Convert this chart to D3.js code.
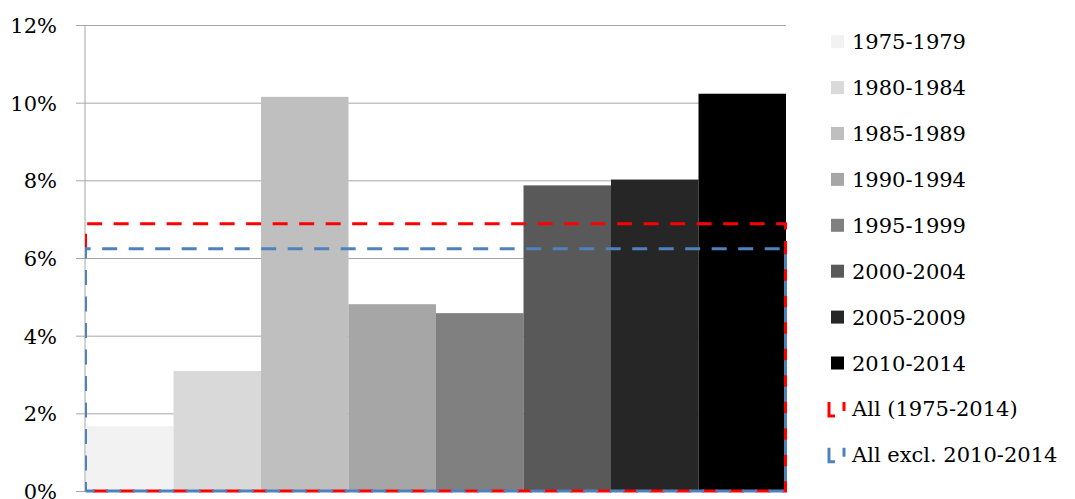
<!DOCTYPE html>
<html>
<head>
<meta charset="utf-8">
<script src="https://cdn.jsdelivr.net/npm/d3@7"></script>
<style>
  html, body { margin: 0; padding: 0; background: #fff; }
  svg { display: block; }
  text { font-family: "DejaVu Serif", "Liberation Serif", serif; fill: #000; }
</style>
</head>
<body>
<svg id="chart" width="1075" height="499"></svg>
<script>
// ---- Data ----
const categories = ["1975-1979", "1980-1984", "1985-1989", "1990-1994", "1995-1999", "2000-2004", "2005-2009", "2010-2014"];
const values = [0.0167, 0.0309, 0.1015, 0.0481, 0.0458, 0.0787, 0.0802, 0.1023];
const barColors = ["#F2F2F2", "#D9D9D9", "#BFBFBF", "#A6A6A6", "#808080", "#595959", "#262626", "#000000"];
const lineNames = ["All (1975-2014)", "All excl. 2010-2014"];
const lineValues = [0.0688, 0.0624];
const lineColors = ["#FF0000", "#4F81BD"];
const yTicks = [0, 0.02, 0.04, 0.06, 0.08, 0.10, 0.12];

// ---- Layout ----
const svg = d3.select("#chart");
const mLeft = 85, mRight = 786, mTop = 25, mBottom = 491;

const x = d3.scaleBand().domain(categories).range([mLeft + 1, mRight]).padding(0);
const y = d3.scaleLinear().domain([0, 0.12]).range([mBottom, mTop]);

svg.append("defs").append("clipPath").attr("id", "plotclip")
  .append("rect").attr("x", mLeft).attr("y", 0).attr("width", 1075 - mLeft).attr("height", 499);

// Gridlines + y axis
const yAxis = d3.axisLeft(y).tickValues(yTicks).tickFormat(d3.format(".0%"))
  .tickSize(-(mRight - mLeft)).tickPadding(0);
const gy = svg.append("g").attr("transform", `translate(${mLeft},0)`).call(yAxis);
gy.select(".domain").remove();
gy.selectAll(".tick line").attr("stroke", "#A6A6A6").attr("stroke-width", 1)
  .attr("x1", -9).attr("x2", mRight - mLeft);
gy.selectAll(".tick text").attr("x", -28).attr("font-size", 21)
  .attr("font-family", "DejaVu Serif").attr("fill", "#000").attr("dy", "0.36em");

// Bars
svg.append("g").selectAll("rect").data(categories).join("rect")
  .attr("x", d => x(d))
  .attr("y", (d, i) => y(values[i]))
  .attr("width", x.bandwidth())
  .attr("height", (d, i) => y(0) - y(values[i]))
  .attr("fill", (d, i) => barColors[i]);

// Vertical axis line
svg.append("line").attr("x1", mLeft).attr("x2", mLeft).attr("y1", y(0.12)).attr("y2", y(0))
  .attr("stroke", "#A6A6A6").attr("stroke-width", 1);

// Dashed average boxes (red box's left side only shows above the blue line)
const x0 = mLeft + 0.5, x1 = mRight - 0.5;
const gBox = svg.append("g").attr("clip-path", "url(#plotclip)");
lineValues.forEach((v, i) => {
  const p = d3.path();
  const startV = i === 0 ? lineValues[1] : 0;
  p.moveTo(x0, y(startV));
  p.lineTo(x0, y(v));
  p.lineTo(x1, y(v));
  p.lineTo(x1, y(0));
  p.lineTo(x0, y(0));
  gBox.append("path").attr("d", p.toString())
    .attr("fill", "none")
    .attr("stroke", lineColors[i])
    .attr("stroke-width", 3)
    .attr("stroke-dasharray", "15,11.5")
    .attr("stroke-dashoffset", i === 0 ? 0 : 6);
});

// Legend
const lgX = 831, lgY0 = 41.7, lgStep = 45.9;
const lg = svg.append("g");
categories.forEach((c, i) => {
  const cy = lgY0 + i * lgStep;
  lg.append("rect").attr("x", lgX).attr("y", cy - 6.5).attr("width", 13).attr("height", 13)
    .attr("fill", barColors[i]);
  lg.append("text").attr("x", 852).attr("y", cy).attr("dy", "0.36em")
    .attr("font-size", 21).text(c);
});
lineNames.forEach((n, i) => {
  const cy = lgY0 + (categories.length + i) * lgStep;
  const p = d3.path();
  p.moveTo(829, cy - 7);
  p.lineTo(829, cy + 7);
  p.lineTo(844, cy + 7);
  p.lineTo(844, cy - 7);
  lg.append("path").attr("d", p.toString()).attr("fill", "none")
    .attr("stroke", lineColors[i]).attr("stroke-width", 3)
    .attr("stroke-dasharray", "20,14");
  lg.append("text").attr("x", 852).attr("y", cy).attr("dy", "0.36em")
    .attr("font-size", 21).text(n);
});
</script>
</body>
</html>
